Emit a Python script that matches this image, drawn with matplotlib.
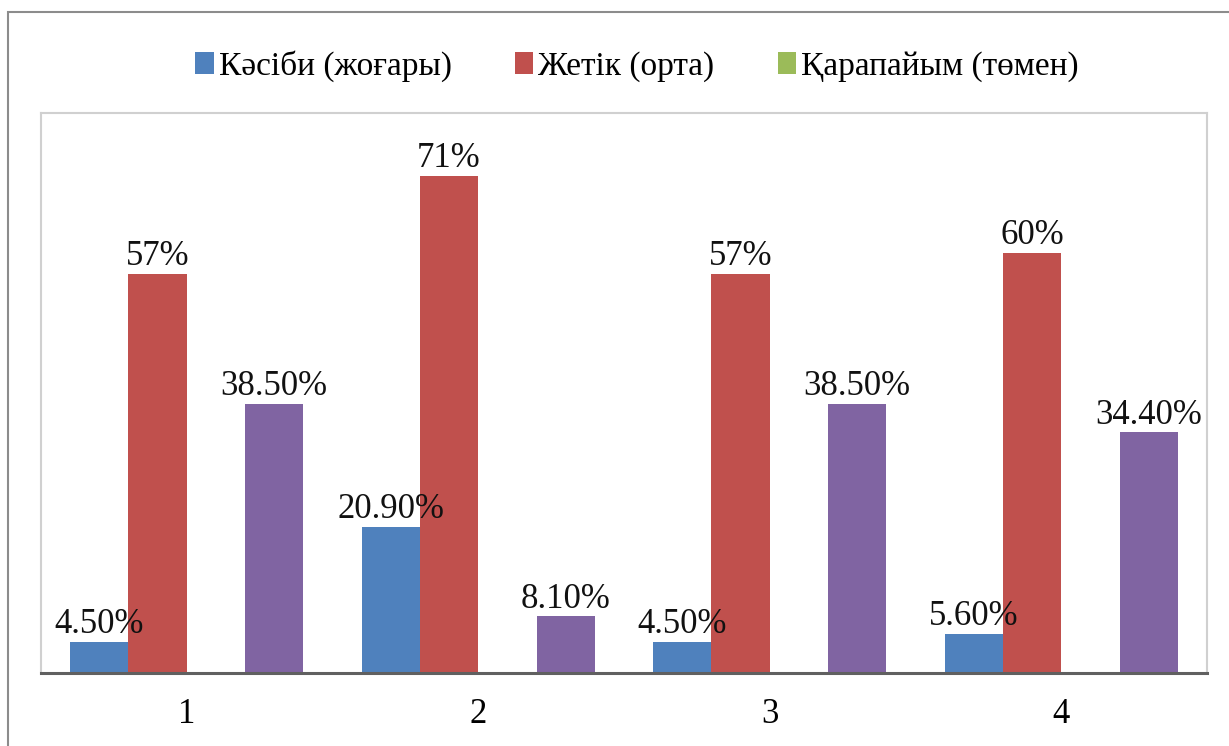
import matplotlib.pyplot as plt
from matplotlib.patches import Rectangle, Patch
import numpy as np

plt.rcParams['font.family'] = ['Liberation Serif', 'DejaVu Serif']

categories = ['1', '2', '3', '4']
series_names = ['Кәсіби (жоғары)', 'Жетік (орта)', 'Қарапайым (төмен)', '']
kasibi = [4.5, 20.9, 4.5, 5.6]
zhetik = [57, 71, 57, 60]
karapaiym = [0, 0, 0, 0]
extra = [38.5, 8.1, 38.5, 34.4]
kasibi_labels = ['4.50%', '20.90%', '4.50%', '5.60%']
zhetik_labels = ['57%', '71%', '57%', '60%']
extra_labels = ['38.50%', '8.10%', '38.50%', '34.40%']

colors = ['#4F81BD', '#C0504D', '#9BBB59', '#8064A2']

fig = plt.figure(figsize=(12.29, 7.46), dpi=100)
# outer chart border (only left and top edges fall inside the image)
fig.patches.append(Rectangle((8 / 1229, -0.1), 1.2, 1 - 12 / 746 + 0.1,
                             transform=fig.transFigure, fill=False,
                             edgecolor='#8c8c8c', linewidth=1.5))

ax = fig.add_axes([41 / 1229, 1 - 673 / 746, 1166 / 1229, 560 / 746])

x = np.arange(len(categories))
w = 0.2
all_vals = [kasibi, zhetik, karapaiym, extra]
all_labels = [kasibi_labels, zhetik_labels, None, extra_labels]
for i, (vals, labs) in enumerate(zip(all_vals, all_labels)):
    pos = x + (i - 1.5) * w
    ax.bar(pos, vals, width=w, color=colors[i], zorder=2)
    if labs is None:
        continue
    for px, v, t in zip(pos, vals, labs):
        ax.annotate(t, (px, v), xytext=(0, 0.5), textcoords='offset points',
                    ha='center', va='bottom', fontsize=25, color='#111111',
                    zorder=5)

ax.set_xlim(-0.5, 3.5)
ax.set_ylim(0, 80)
ax.set_xticks(x)
ax.set_xticklabels(categories, fontsize=25)
ax.tick_params(axis='x', length=0, pad=18)
ax.set_yticks([])

for side in ['left', 'top', 'right']:
    ax.spines[side].set_color('#d0d0d0')
    ax.spines[side].set_linewidth(1.5)
ax.spines['bottom'].set_color('#606060')
ax.spines['bottom'].set_linewidth(2.2)

handles = [Patch(facecolor=colors[i], label=series_names[i]) for i in range(3)]
fig.legend(handles=handles, loc='center', bbox_to_anchor=(637 / 1229, 1 - 66 / 746),
           ncol=3, frameon=False, fontsize=24, handlelength=0.55, handleheight=0.65,
           handletextpad=0.15, columnspacing=1.9)

fig.savefig('out.png', dpi=100)
